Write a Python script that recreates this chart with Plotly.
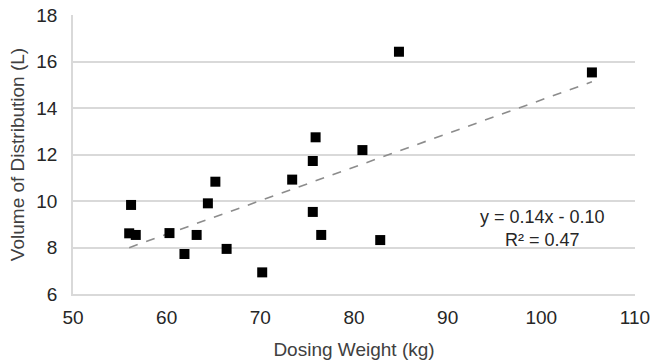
import numpy as np
import plotly.graph_objects as go

weight = [56.2, 56.0, 56.7, 60.3, 61.9, 63.2, 64.4, 65.2, 66.4, 70.2,
          73.4, 75.6, 75.9, 75.6, 76.5, 80.9, 82.8, 84.8, 105.4]
vd = [9.83, 8.61, 8.54, 8.62, 7.72, 8.54, 9.9, 10.83, 7.94, 6.93,
      10.92, 11.72, 12.74, 9.53, 8.54, 12.19, 8.32, 16.42, 15.53]

slope, intercept = np.polyfit(weight, vd, 1)
xs = np.array([min(weight), max(weight)])
ys = slope * xs + intercept

font = "Liberation Sans, Arial, sans-serif"
fig = go.Figure()
fig.add_trace(go.Scatter(x=xs, y=ys, mode="lines",
                         line=dict(color="#8c8c8c", width=1.6, dash="dash"),
                         hoverinfo="skip", showlegend=False))
fig.add_trace(go.Scatter(x=weight, y=vd, mode="markers",
                         marker=dict(symbol="square", size=10, color="black"),
                         showlegend=False))
fig.add_annotation(x=0.836, y=0.233, xref="paper", yref="paper",
                   xanchor="center", yanchor="middle",
                   text="y = 0.14x - 0.10<br>R² = 0.47", showarrow=False,
                   font=dict(family=font, size=18, color="#262626"), align="center")
fig.update_layout(
    width=651, height=364,
    margin=dict(l=73, r=16, t=15, b=70),
    paper_bgcolor="white", plot_bgcolor="white",
    font=dict(family=font, size=19, color="#404040"),
)
fig.update_xaxes(range=[50, 110], dtick=10, showgrid=False, zeroline=False,
                 showline=True, linecolor="#d9d9d9", linewidth=1.5, automargin=False,
                 ticks="", ticklabelstandoff=5, tickfont=dict(size=19, color="#262626"),
                 title=dict(text="Dosing Weight (kg)", font=dict(size=19, color="#404040"), standoff=16))
fig.update_yaxes(range=[6, 18], dtick=2, showgrid=True, gridcolor="#d9d9d9", gridwidth=1.5,
                 zeroline=False, showline=True, linecolor="#d9d9d9", linewidth=1.5, automargin=False,
                 ticks="", ticklabelstandoff=10, tickfont=dict(size=19, color="#262626"),
                 title=dict(text="Volume of Distribution (L)", font=dict(size=19, color="#404040"), standoff=7))
fig.write_html("out.html")
